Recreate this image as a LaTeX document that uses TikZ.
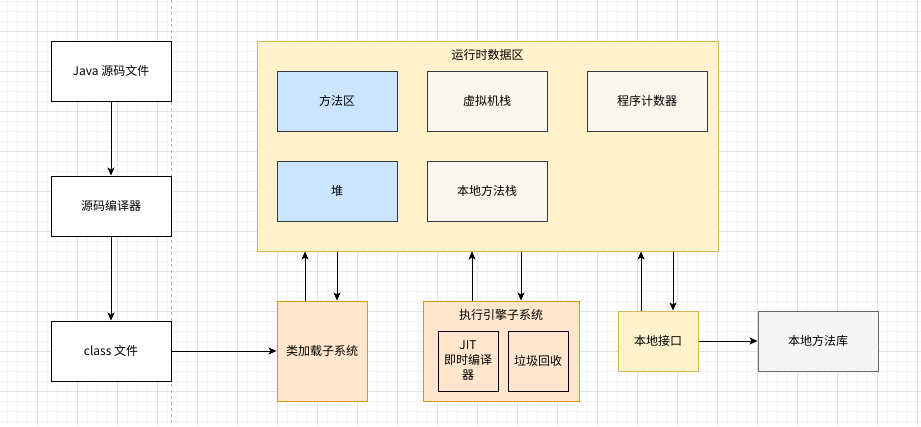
\documentclass[tikz,border=0pt]{standalone}
\usepackage{fontspec}
\setmainfont{Noto Sans CJK SC}
\usetikzlibrary{arrows.meta}
\definecolor{rtfill}{HTML}{FFF2CC}
\definecolor{rtline}{HTML}{D6B656}
\definecolor{bluefill}{HTML}{CCE5FF}
\definecolor{darkline}{HTML}{36393D}
\definecolor{beigefill}{HTML}{F9F7ED}
\definecolor{orfill}{HTML}{FFE6CC}
\definecolor{orline}{HTML}{D79B00}
\definecolor{grayfill}{HTML}{F5F5F5}
\definecolor{grayline}{HTML}{666666}
\definecolor{gridminor}{HTML}{F4F4F4}
\definecolor{gridmajor}{HTML}{E2E2E2}
\tikzset{
  every node/.style={font=\fontsize{12}{15}\selectfont, inner sep=0pt, align=center},
  plainbox/.style={draw=black, fill=white, line width=1pt, minimum width=120pt, minimum height=60pt},
  bluebox/.style={draw=darkline, fill=bluefill, line width=1pt, minimum width=120pt, minimum height=60pt},
  beigebox/.style={draw=darkline, fill=beigefill, line width=1pt, minimum width=120pt, minimum height=60pt},
  orbox/.style={draw=orline, fill=orfill, line width=1pt},
  innerbox/.style={draw=black, fill=orfill, line width=1pt, minimum width=60pt, minimum height=60pt},
  arr/.style={line width=1pt, -{Stealth[length=8pt,width=7pt,inset=2pt]}}
}
\begin{document}
\begin{tikzpicture}[x=1pt,y=-1pt]
\useasboundingbox (0,0) rectangle (921,426);
\fill[white] (0,0) rectangle (921,426);
% grid
\foreach \gx in {7,17,...,917} \draw[gridminor, line width=0.8pt] (\gx,0) -- (\gx,426);
\foreach \gy in {1,11,...,421} \draw[gridminor, line width=0.8pt] (0,\gy) -- (921,\gy);
\foreach \gx in {37,77,...,917} \draw[gridmajor, line width=0.8pt] (\gx,0) -- (\gx,426);
\foreach \gy in {31,71,...,421} \draw[gridmajor, line width=0.8pt] (0,\gy) -- (921,\gy);
\draw[gray!60, dashed, line width=0.8pt, dash pattern=on 3pt off 3pt] (171.5,0) -- (171.5,426);

% left column
\node[plainbox] (java) at (111,71) {Java 源码文件};
\node[plainbox] (comp) at (111,206) {源码编译器};
\node[plainbox] (cls) at (111,351) {class 文件};

% runtime data area
\node[draw=rtline, fill=rtfill, line width=1pt, minimum width=461pt, minimum height=210pt] (rt) at (487.5,146) {};
\node (rttitle) at (487.5,55) {运行时数据区};
\node[bluebox] (mth) at (337,101) {方法区};
\node[beigebox] (vms) at (487,101) {虚拟机栈};
\node[beigebox] (pc) at (647,101) {程序计数器};
\node[bluebox] (heap) at (337,191) {堆};
\node[beigebox] (nms) at (487,191) {本地方法栈};

% class loader
\node[orbox, minimum width=90pt, minimum height=100pt] (cl) at (322,351) {类加载子系统};

% execution engine
\node[orbox, minimum width=156pt, minimum height=100pt] (ee) at (501,351) {};
\node (eetitle) at (501,315) {执行引擎子系统};
\node[innerbox] (jit) at (468,361) {JIT\\即时编译\\器};
\node[innerbox] (gc) at (538,361) {垃圾回收};

% native
\node[draw=rtline, fill=rtfill, line width=1pt, minimum width=80pt, minimum height=60pt] (ni) at (658,341) {本地接口};
\node[draw=grayline, fill=grayfill, line width=1pt, minimum width=120pt, minimum height=60pt] (nl) at (818,341) {本地方法库};

% connectors
\draw[arr] (java) -- (comp);
\draw[arr] (comp) -- (cls);
\draw[arr] (cls) -- (cl);
\draw[arr] (cl.north -| 305,0) -- (305,0 |- rt.south);
\draw[arr] (337,0 |- rt.south) -- (cl.north -| 337,0);
\draw[arr] (ee.north -| 472,0) -- (472,0 |- rt.south);
\draw[arr] (521,0 |- rt.south) -- (ee.north -| 521,0);
\draw[arr] (ni.north -| 641,0) -- (641,0 |- rt.south);
\draw[arr] (673,0 |- rt.south) -- (ni.north -| 673,0);
\draw[arr] (ni) -- (nl);
\end{tikzpicture}
\end{document}
